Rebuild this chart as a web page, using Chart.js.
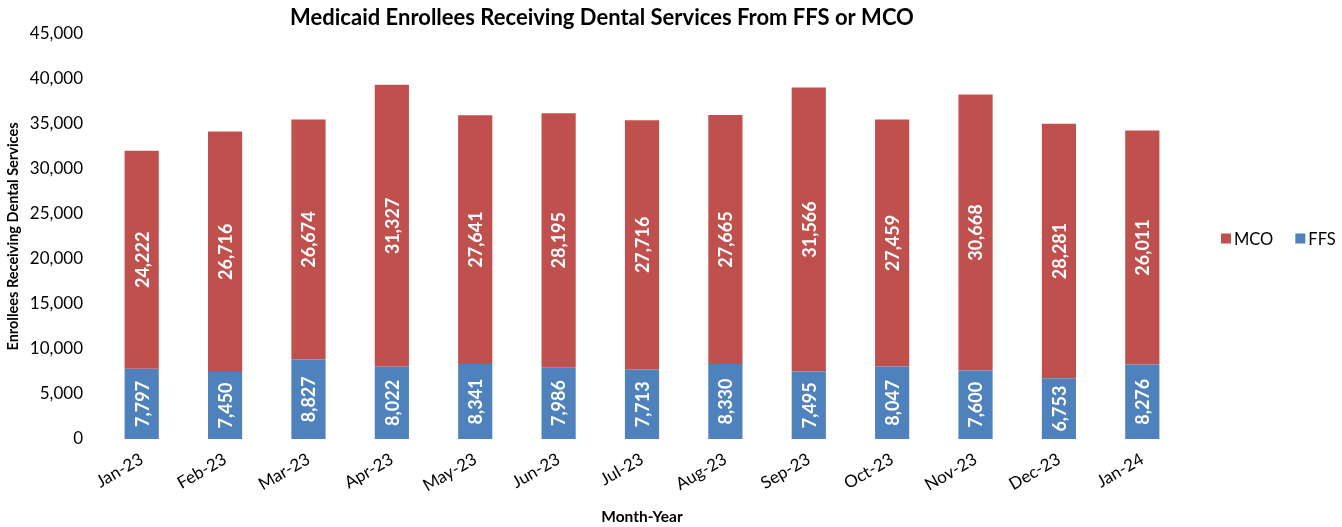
<!DOCTYPE html>
<html>
<head>
<meta charset="utf-8">
<script src="https://cdn.jsdelivr.net/npm/chart.js@4"></script>
<style>
  body { margin: 0; background: #fff; }
  #wrap { width: 1342px; height: 527px; }
</style>
</head>
<body>
<div id="wrap"><canvas id="myChart" width="1342" height="527"></canvas></div>
<script>
'use strict';

const months = ['Jan-23', 'Feb-23', 'Mar-23', 'Apr-23', 'May-23', 'Jun-23', 'Jul-23',
  'Aug-23', 'Sep-23', 'Oct-23', 'Nov-23', 'Dec-23', 'Jan-24'];
const ffs = [7797, 7450, 8827, 8022, 8341, 7986, 7713, 8330, 7495, 8047, 7600, 6753, 8276];
const mco = [24222, 26716, 26674, 31327, 27641, 28195, 27716, 27665, 31566, 27459, 30668, 28281, 26011];
const yTicks = [0, 5000, 10000, 15000, 20000, 25000, 30000, 35000, 40000, 45000];

const FONT = 'Lato, Carlito, Calibri, sans-serif';
const RED = '#C0504D';
const BLUE = '#4F81BD';

const fmt = (n) => n.toLocaleString('en-US');

// white rotated value labels, centred in each segment
const barLabels = {
  id: 'barLabels',
  afterDatasetsDraw(chart) {
    const ctx = chart.ctx;
    ctx.save();
    ctx.fillStyle = '#fff';
    ctx.font = 'bold 18px ' + FONT;
    ctx.textAlign = 'center';
    ctx.textBaseline = 'middle';
    chart.data.datasets.forEach((ds, di) => {
      chart.getDatasetMeta(di).data.forEach((bar, i) => {
        const y = (bar.y + bar.base) / 2;
        ctx.save();
        ctx.translate(bar.x, y);
        ctx.rotate(-Math.PI / 2);
        ctx.fillText(fmt(ds.data[i]), 0, 1);
        ctx.restore();
      });
    });
    ctx.restore();
  },
};

// title + one-row legend like the excel one
const extras = {
  id: 'extras',
  afterDraw(chart) {
    const ctx = chart.ctx;
    const area = chart.chartArea;
    ctx.save();
    ctx.fillStyle = '#000';
    ctx.font = 'bold 22px ' + FONT;
    ctx.textAlign = 'center';
    ctx.textBaseline = 'middle';
    ctx.fillText('Medicaid Enrollees Receiving Dental Services From FFS or MCO', 602, 18);

    ctx.font = '16.5px ' + FONT;
    ctx.textAlign = 'left';
    const midY = (area.top + area.bottom) / 2 + 2;
    let x = area.right + 37;
    const order = [1, 0];
    order.forEach((di) => {
      const ds = chart.data.datasets[di];
      ctx.fillStyle = ds.backgroundColor;
      ctx.fillRect(x, midY - 5, 10, 10);
      ctx.fillStyle = '#000';
      ctx.fillText(ds.label, x + 13, midY + 1);
      x += 13 + ctx.measureText(ds.label).width + 22;
    });
    ctx.restore();
  },
};

const ctx = document.getElementById('myChart');

new Chart(ctx, {
  type: 'bar',
  data: {
    labels: months,
    datasets: [
      { label: 'FFS', data: ffs, backgroundColor: BLUE },
      { label: 'MCO', data: mco, backgroundColor: RED },
    ],
  },
  options: {
    responsive: false,
    animation: false,
    categoryPercentage: 1,
    barPercentage: 0.41,
    layout: { padding: { top: 34, right: 158, left: 0, bottom: 0 } },
    plugins: {
      legend: { display: false },
      title: { display: false },
      tooltip: { enabled: false },
    },
    scales: {
      x: {
        stacked: true,
        grid: { display: false, drawTicks: false },
        border: { display: false },
        ticks: {
          color: '#000',
          font: { family: FONT, size: 17 },
          minRotation: 30,
          maxRotation: 30,
          padding: 10,
        },
        title: {
          display: true,
          text: 'Month-Year',
          color: '#000',
          font: { family: FONT, size: 15.5, weight: 'bold' },
          padding: { top: 4, bottom: 1 },
        },
        afterFit(scale) { scale.height = 88; },
      },
      y: {
        stacked: true,
        min: 0,
        max: 45000,
        grid: { display: false, drawTicks: false },
        border: { display: false },
        afterBuildTicks(scale) { scale.ticks = yTicks.map((v) => ({ value: v })); },
        ticks: {
          color: '#000',
          font: { family: FONT, size: 17 },
          padding: 17,
          callback: (v) => fmt(v),
        },
        title: {
          display: true,
          text: 'Enrollees Receiving Dental Services',
          color: '#000',
          font: { family: FONT, size: 14.5, weight: 'bold' },
          padding: { top: 5, bottom: 4 },
        },
        afterFit(scale) { scale.width = 100; },
      },
    },
  },
  plugins: [barLabels, extras],
});
</script>
</body>
</html>
